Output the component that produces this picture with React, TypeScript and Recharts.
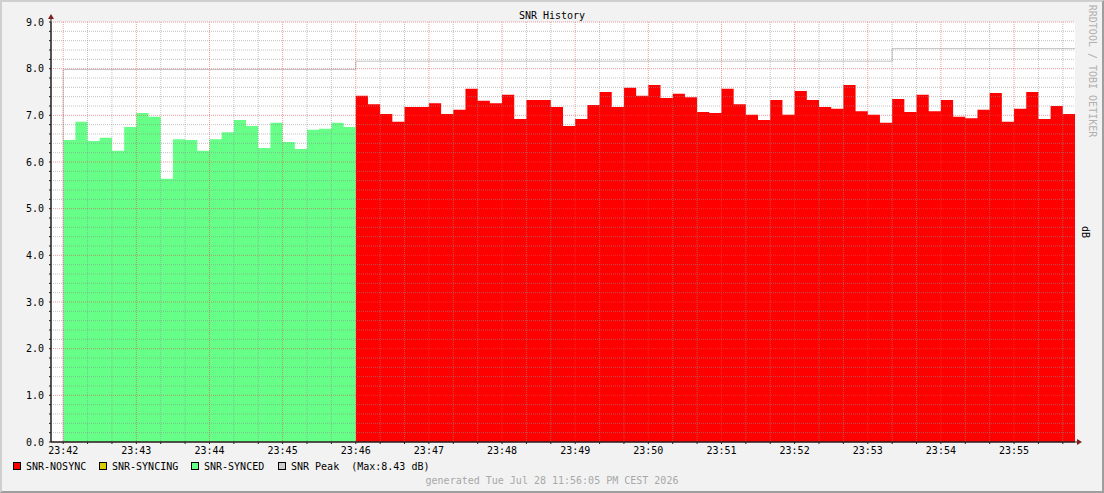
import React from 'react';
import { ComposedChart, Area, Line, XAxis, YAxis, CartesianGrid } from 'recharts';

// SNR samples, one every 10 seconds starting 23:42:00
const syncedValues = [
  6.47, 6.86, 6.45, 6.52, 6.24, 6.75, 7.05, 6.97, 5.64, 6.49, 6.47, 6.24,
  6.49, 6.64, 6.9, 6.77, 6.3, 6.84, 6.43, 6.28, 6.69, 6.71, 6.84, 6.75,
];
const nosyncValues = [
  7.42, 7.24, 7.03, 6.86, 7.18, 7.18, 7.26, 7.03, 7.12, 7.57, 7.31, 7.26,
  7.44, 6.92, 7.33, 7.33, 7.18, 6.77, 6.92, 7.22, 7.5, 7.18, 7.59, 7.42,
  7.65, 7.37, 7.46, 7.39, 7.07, 7.05, 7.57, 7.24, 7.01, 6.9, 7.33, 7.01,
  7.52, 7.33, 7.18, 7.14, 7.65, 7.09, 7.01, 6.84, 7.35, 7.07, 7.44, 7.09,
  7.33, 6.97, 6.94, 7.12, 7.48, 6.86, 7.14, 7.5, 6.92, 7.2, 7.03,
];
// peak level and the second (from 23:42:00) at which it starts
const peakLevels = [7.98, 8.16, 8.43];
const peakStarts = [0, 240, 680];

const timeLabels = [
  '23:42', '23:43', '23:44', '23:45', '23:46', '23:47', '23:48',
  '23:49', '23:50', '23:51', '23:52', '23:53', '23:54', '23:55',
];
const yLabels = ['0.0', '1.0', '2.0', '3.0', '4.0', '5.0', '6.0', '7.0', '8.0', '9.0'];

const STEP = 10;
const FONT = '"DejaVu Sans Mono", monospace';

const peakAt = (t: number) => {
  let v = peakLevels[0];
  peakStarts.forEach((s, i) => {
    if (t >= s) v = peakLevels[i];
  });
  return v;
};

const buildRows = () => {
  const n = syncedValues.length + nosyncValues.length;
  const rows: any[] = [{ t: 0, peak: 0 }];
  for (let i = 0; i <= n; i++) {
    const t = i * STEP;
    const row: any = { t, peak: peakAt(Math.min(t, (n - 1) * STEP)) };
    if (i < syncedValues.length) row.synced = syncedValues[i];
    if (i === syncedValues.length) row.synced = syncedValues[i - 1];
    if (i >= syncedValues.length && i < n) row.nosync = nosyncValues[i - syncedValues.length];
    if (i === n) row.nosync = nosyncValues[nosyncValues.length - 1];
    rows.push(row);
  }
  return rows;
};
const rows = buildRows();

const xTicks = Array.from({ length: 42 }, (_, i) => i * 20);
const yTicks = Array.from({ length: 46 }, (_, i) => Math.round(i * 2) / 10);
const minorX = xTicks.filter((t) => t % 60 !== 0);
const majorX = xTicks.filter((t) => t % 60 === 0);
const minorY = yTicks.filter((v) => Math.round(v * 10) % 10 !== 0);
const majorY = yTicks.filter((v) => Math.round(v * 10) % 10 === 0);

const legendItems = [
  { label: 'SNR-NOSYNC', color: '#ff0000', x: 13 },
  { label: 'SNR-SYNCING', color: '#ddcc00', x: 99 },
  { label: 'SNR-SYNCED', color: '#66ff88', x: 191 },
  { label: 'SNR Peak  (Max:8.43 dB)', color: '#cccccc', x: 278 },
];

export default function App() {
  return (
    <div
      style={{
        position: 'absolute',
        left: 0,
        top: 0,
        width: 1104,
        height: 493,
        background: '#f2f2f2',
        boxSizing: 'border-box',
        borderTop: '2px solid #cfcfcf',
        borderLeft: '2px solid #cfcfcf',
        borderRight: '2px solid #9e9e9e',
        borderBottom: '2px solid #9e9e9e',
        overflow: 'hidden',
      }}
    >
      <div style={{ position: 'absolute', left: -2, top: -2 }}>
        <ComposedChart
          width={1104}
          height={493}
          data={rows}
          margin={{ top: 22, right: 29, bottom: 31, left: 6 }}
          style={{ fontFamily: FONT }}
        >
          <rect x={51} y={22} width={1024} height={420} fill="#ffffff" />
          <XAxis
            dataKey="t"
            type="number"
            domain={[-10, 830]}
            ticks={xTicks}
            interval={0}
            allowDataOverflow
            height={20}
            tickSize={2}
            tickMargin={3}
            stroke="#1f1f1f"
            tick={{ fill: '#000', fontSize: 10, fontFamily: FONT }}
            tickFormatter={(t: number) => (t % 60 === 0 ? timeLabels[t / 60] : '')}
          />
          <YAxis
            type="number"
            domain={[0, 9]}
            ticks={yTicks}
            interval={0}
            width={45}
            tickSize={2}
            tickMargin={5}
            stroke="#1f1f1f"
            tick={{ fill: '#000', fontSize: 10, fontFamily: FONT }}
            tickFormatter={(v: number) => {
              const k = Math.round(v * 10);
              return k % 10 === 0 ? yLabels[k / 10] : '';
            }}
          />
          <Line
            dataKey="peak"
            type="stepAfter"
            stroke="#c4c4c4"
            strokeWidth={1}
            dot={false}
            isAnimationActive={false}
          />
          <Area
            dataKey="nosync"
            type="stepAfter"
            fill="#ff0000"
            fillOpacity={1}
            stroke="none"
            baseValue={0}
            isAnimationActive={false}
          />
          <Area
            dataKey="synced"
            type="stepAfter"
            fill="#66ff88"
            fillOpacity={1}
            stroke="none"
            baseValue={0}
            isAnimationActive={false}
          />
          <CartesianGrid
            horizontalValues={minorY}
            verticalValues={minorX}
            stroke="rgba(143,143,143,0.55)"
            strokeDasharray="1 1"
            zIndex={600}
          />
          <CartesianGrid
            horizontalValues={majorY}
            verticalValues={majorX}
            stroke="rgba(222,79,79,0.55)"
            strokeDasharray="1 1"
            zIndex={600}
          />
        </ComposedChart>
      </div>
      <svg
        width={1104}
        height={493}
        style={{ position: 'absolute', left: -2, top: -2, pointerEvents: 'none' }}
        fontFamily={FONT}
        fontSize={10}
      >
        <line x1={51} y1={442} x2={1078} y2={442} stroke="#1f1f1f" />
        <line x1={51} y1={442} x2={51} y2={18} stroke="#1f1f1f" />
        <polygon points="48,19 54,19 51,14" fill="#801f1f" />
        <polygon points="1077,439 1077,445 1082,442" fill="#801f1f" />
        <text x={552} y={19} textAnchor="middle" fill="#000">
          SNR History
        </text>
        <text
          transform="translate(1092,71) rotate(90)"
          textAnchor="middle"
          dominantBaseline="central"
          fill="#b0b0b0"
        >
          RRDTOOL / TOBI OETIKER
        </text>
        <text
          transform="translate(1085,232) rotate(90)"
          textAnchor="middle"
          dominantBaseline="central"
          fill="#000"
        >
          dB
        </text>
        {legendItems.map((it) => (
          <g key={it.label}>
            <rect x={it.x + 0.5} y={462.5} width={7} height={7} fill={it.color} stroke="#000" />
            <text x={it.x + 13} y={470} fill="#000" xmlSpace="preserve">
              {it.label}
            </text>
          </g>
        ))}
        <text x={552} y={484} textAnchor="middle" fill="#a8a8a8">
          generated Tue Jul 28 11:56:05 PM CEST 2026
        </text>
      </svg>
    </div>
  );
}
